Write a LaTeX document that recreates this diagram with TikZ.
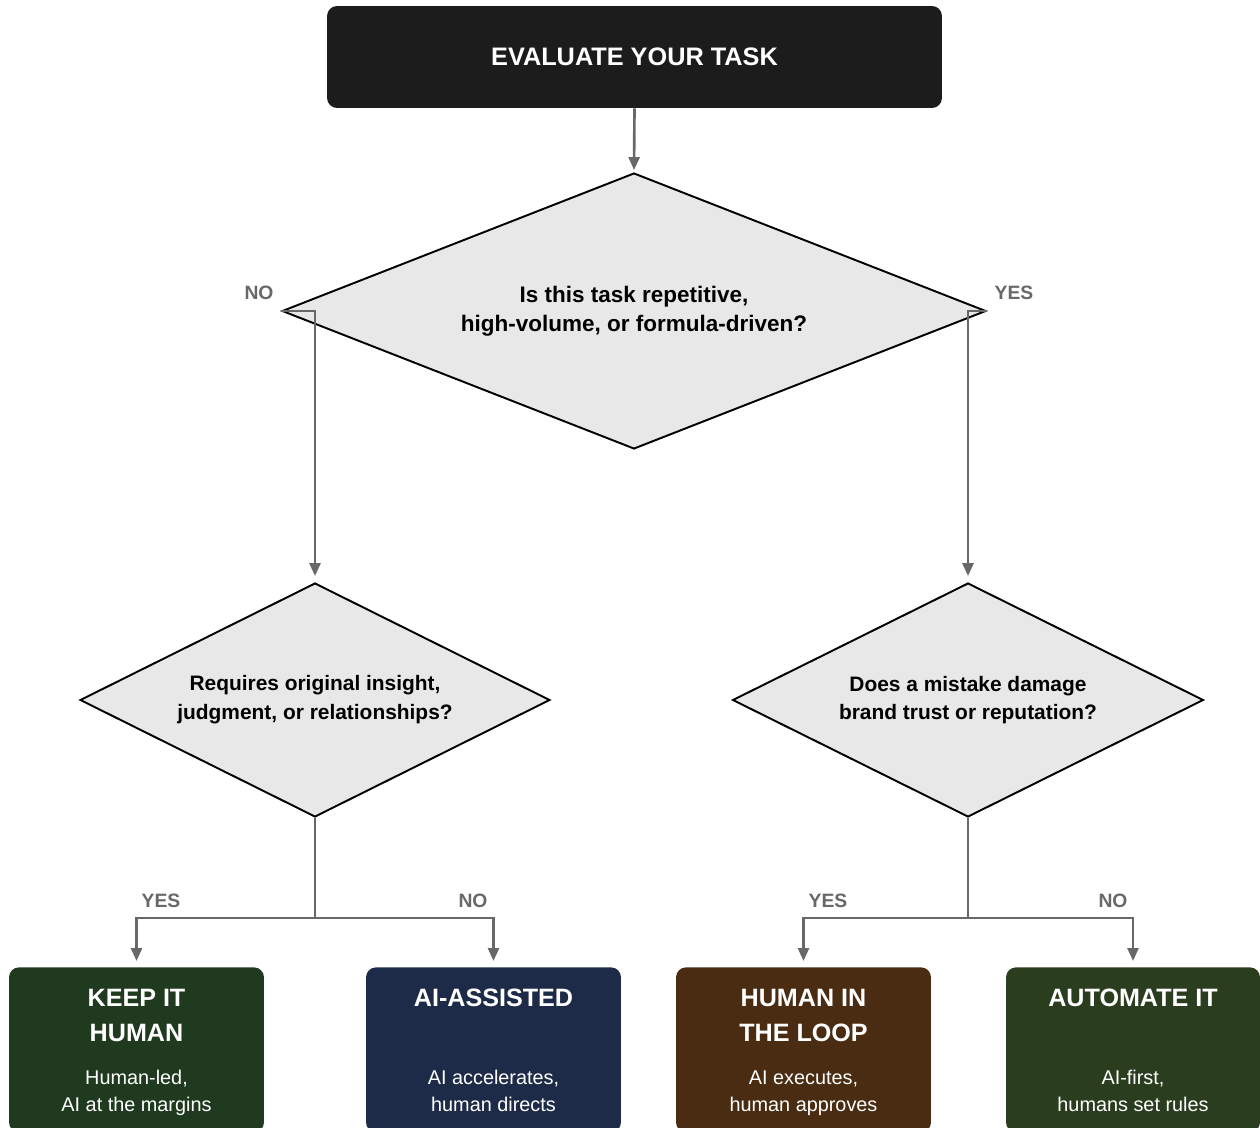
\documentclass[tikz,border=0pt]{standalone}
\usepackage{fontspec}
\setmainfont{Liberation Sans}
\usetikzlibrary{arrows.meta,shapes.geometric,positioning,calc}
\definecolor{arrowgray}{HTML}{686868}
\definecolor{diafill}{HTML}{E8E8E8}
\definecolor{topblack}{HTML}{1C1C1C}
\definecolor{keepgreen}{HTML}{1F3A1F}
\definecolor{assistblue}{HTML}{1E2B48}
\definecolor{loopbrown}{HTML}{4A2C12}
\definecolor{autogreen}{HTML}{2B3D1F}

\begin{document}
\begin{tikzpicture}[x=0.02cm,y=-0.02cm]

		\tikzset{line/.style={draw=arrowgray,line width=1.5pt}}
		\tikzset{arrow/.style={line,-{Triangle[length=0.26cm,width=0.22cm]},shorten >=0.12cm}}
		\tikzset{question/.style={shape=diamond,draw=black,line width=1.1pt,fill=diafill,inner sep=0pt,align=center,font=\fontsize{12.8}{16.4}\selectfont\bfseries}}
		\tikzset{result/.style={rectangle,rounded corners=0.2cm,minimum width=5.1cm,minimum height=3.3cm,anchor=north}}
		\tikzset{restitle/.style={text=white,align=center,inner sep=0pt,font=\fontsize{14.3}{19.8}\selectfont\bfseries}}
		\tikzset{ressub/.style={text=white,align=center,inner sep=0pt,font=\fontsize{11.3}{15.3}\selectfont}}
		\tikzset{answer/.style={text=arrowgray,inner sep=0pt,font=\fontsize{11}{13}\selectfont\bfseries}}

		\useasboundingbox (0,0) rectangle (1260,1128);

		% start
		\node[fill=topblack,rounded corners=0.2cm,minimum width=12.3cm,minimum height=2.04cm,text=white,font=\fontsize{14.4}{17}\selectfont\bfseries] (evaluate) at (634.5, 57) {EVALUATE YOUR TASK};

		% questions
		\node[question,aspect=2.55,minimum width=14.08cm,minimum height=5.52cm] (repetitive) at (634, 311) {Is this task repetitive,\\high-volume, or formula-driven?};
		\node[question,aspect=2.0,minimum width=9.4cm,minimum height=4.68cm,font=\fontsize{11.9}{16.4}\selectfont\bfseries] (insight) at (315, 700) {Requires original insight,\\judgment, or relationships?};
		\node[question,aspect=2.0,minimum width=9.42cm,minimum height=4.68cm,font=\fontsize{11.9}{16.4}\selectfont\bfseries] (damage) at (968, 700) {Does a mistake damage\\brand trust or reputation?};

		% outcomes
		\node[result,fill=keepgreen] (keephuman) at (136.5, 967) {};
		\node[result,fill=assistblue] (aiassisted) at (493.5, 967) {};
		\node[result,fill=loopbrown] (humanloop) at (803.5, 967) {};
		\node[result,fill=autogreen,minimum width=5.08cm] (automate) at (1133, 967) {};

		\node[restitle] (keephuman-t) at (136.5, 1015.5) {KEEP IT\\HUMAN};
		\node[restitle] (aiassisted-t) at (493.5, 998) {AI-ASSISTED};
		\node[restitle] (humanloop-t) at (803.5, 1015.5) {HUMAN IN\\THE LOOP};
		\node[restitle] (automate-t) at (1133, 998) {AUTOMATE IT};

		\node[ressub] (keephuman-s) at (136.5, 1093) {Human-led,\\AI at the margins};
		\node[ressub] (aiassisted-s) at (493.5, 1091) {AI accelerates,\\human directs};
		\node[ressub] (humanloop-s) at (803.5, 1093) {AI executes,\\human approves};
		\node[ressub] (automate-s) at (1133, 1091) {AI-first,\\humans set rules};

		% connectors
		\path[arrow,shorten >=0.04cm] (evaluate.south) to (repetitive.north);
		\path[arrow] (repetitive.west) -| (insight.north);
		\path[arrow] (repetitive.east) -| (damage.north);

		\coordinate (splitl) at (315, 918);
		\coordinate (splitr) at (968, 918);
		\path[line] (insight.south) to (splitl);
		\path[arrow] (splitl) -| (keephuman.north);
		\path[arrow] (splitl) -| (aiassisted.north);
		\path[line] (damage.south) to (splitr);
		\path[arrow] (splitr) -| (humanloop.north);
		\path[arrow] (splitr) -| (automate.north);

		% answers
		\node[answer] (no-top) at (259, 293) {NO};
		\node[answer] (yes-top) at (1014, 293) {YES};
		\node[answer] (yes-insight) at (161, 901) {YES};
		\node[answer] (no-insight) at (473, 901) {NO};
		\node[answer] (yes-damage) at (828, 901) {YES};
		\node[answer] (no-damage) at (1113, 901) {NO};

	\end{tikzpicture}
\end{document}
